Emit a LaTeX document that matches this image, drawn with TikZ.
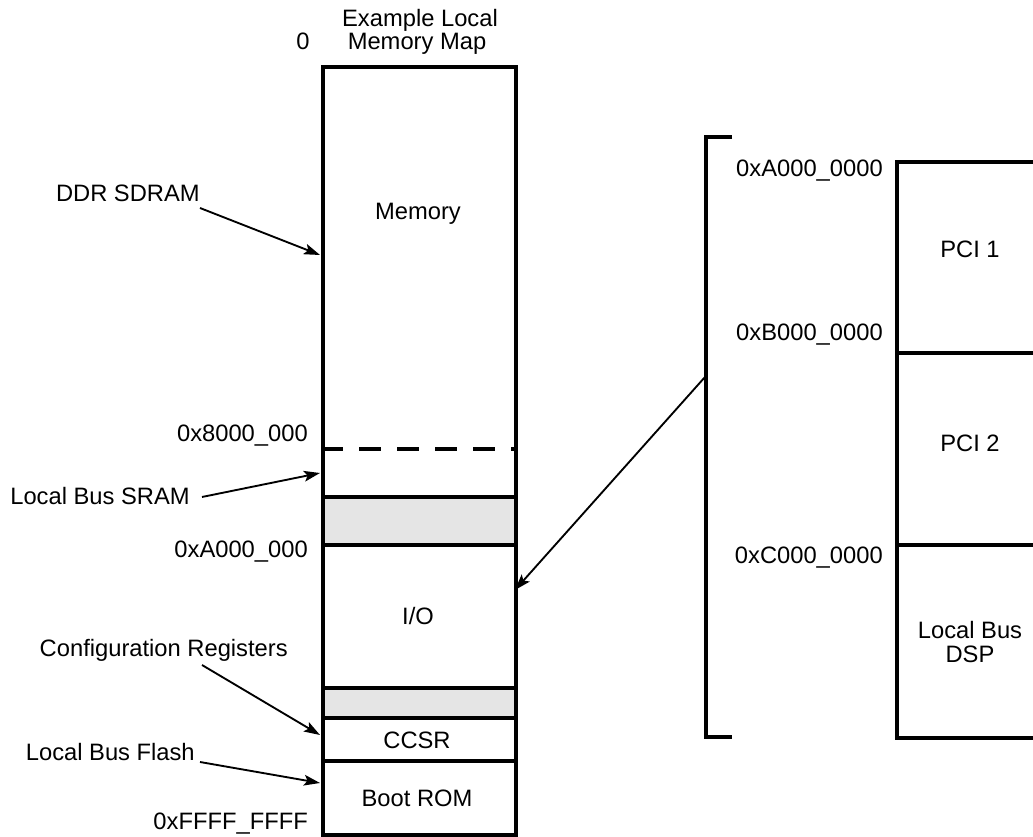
\documentclass[tikz,border=0pt]{standalone}
\usepackage{fontspec}
\setmainfont{Liberation Sans}
\usetikzlibrary{arrows.meta}
\begin{document}
\begin{tikzpicture}[x=0.75pt,y=-0.75pt,
  lbl/.style={inner sep=0pt, font=\fontsize{17.8}{20}\selectfont},
  outer/.style={line width=3pt},
  divline/.style={line width=2.5pt},
  dashline/.style={line width=2.5pt, dash pattern=on 16.5pt off 12pt},
  arr/.style={line width=1.4pt, -{Stealth[length=12pt,width=8pt,inset=2.5pt]}},
  shade/.style={fill=black!10, draw=none}]
\useasboundingbox (0,0) rectangle (1033,837);

% gray bands of the main column
\fill[shade] (321,497) rectangle (514,545);
\fill[shade] (321,688) rectangle (514,718);

% dividers of the main column
\draw[dashline] (321,449) -- (514,449);
\draw[divline] (321,497) -- (514,497);
\draw[divline] (321,545) -- (514,545);
\draw[divline] (321,688) -- (514,688);
\draw[divline] (321,718) -- (514,718);
\draw[divline] (321,761) -- (514,761);

% main column outline
\node[draw, outer, inner sep=0pt, minimum width=193*0.75pt, minimum height=768*0.75pt,
      anchor=north west] (col) at (321,65) {};

% right column (open on the right edge)
\draw[outer, line width=2.7pt] (1040,162) -| (897,738) -- (1040,738);
\draw[divline] (897,353) -- (1040,353);
\draw[divline] (897,545) -- (1040,545);

% bracket
\draw[line width=2.5pt] (732,137) -- (706,137) -- (706,737) -- (732,737);

% title and column texts
\node[lbl, anchor=base] (title1) at (420,27) {Example Local};
\node[lbl, anchor=base] (title2) at (417,50) {Memory Map};
\node[lbl, anchor=base] (zero) at (303,50) {0};
\node[lbl, anchor=base] (memory) at (418,220) {Memory};
\node[lbl, anchor=base] (io) at (418,625) {I/O};
\node[lbl, anchor=base] (ccsr) at (417,749) {CCSR};
\node[lbl, anchor=base] (bootrom) at (417,807) {Boot ROM};

% address labels left
\node[lbl, anchor=base east] (a8) at (308,442) {0x8000\_000};
\node[lbl, anchor=base east] (aA) at (308,558) {0xA000\_000};
\node[lbl, anchor=base east] (aF) at (308,830) {0xFFFF\_FFFF};

% callout labels left
\node[lbl, anchor=base east] (ddr) at (200,202) {DDR SDRAM};
\node[lbl, anchor=base east] (sram) at (190,505) {Local Bus SRAM};
\node[lbl, anchor=base east] (cfg) at (288,657) {Configuration Registers};
\node[lbl, anchor=base east] (flash) at (195,761) {Local Bus Flash};

% right side labels
\node[lbl, anchor=base east] (rA) at (883,177) {0xA000\_0000};
\node[lbl, anchor=base east] (rB) at (883,341) {0xB000\_0000};
\node[lbl, anchor=base east] (rC) at (883,564) {0xC000\_0000};
\node[lbl, anchor=base] (pci1) at (970,258) {PCI 1};
\node[lbl, anchor=base] (pci2) at (970,452) {PCI 2};
\node[lbl, anchor=base] (lbd1) at (970,639) {Local Bus};
\node[lbl, anchor=base] (lbd2) at (970,663) {DSP};

% arrow end points
\coordinate (ddrS) at (200,208);   \coordinate (ddrT) at (320,255);
\coordinate (sramS) at (202,497);  \coordinate (sramT) at (320,473);
\coordinate (cfgS) at (202,665);   \coordinate (cfgT) at (320,735);
\coordinate (flashS) at (200,762); \coordinate (flashT) at (320,783);
\coordinate (brS) at (705,377);    \coordinate (brT) at (515,590);

\draw[arr] (ddrS) -- (ddrT);
\draw[arr] (sramS) -- (sramT);
\draw[arr] (cfgS) -- (cfgT);
\draw[arr] (flashS) -- (flashT);
\draw[arr] (brS) -- (brT);
\end{tikzpicture}
\end{document}
